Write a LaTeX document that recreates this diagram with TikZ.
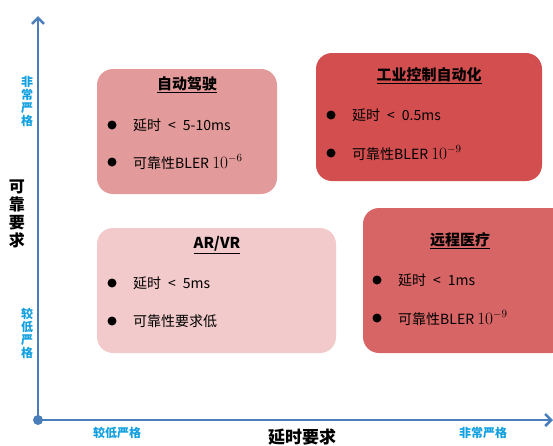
\documentclass[tikz,border=0pt]{standalone}
\usepackage{fontspec}
\setmainfont{Noto Sans CJK SC}
\usetikzlibrary{arrows.meta}
\definecolor{axisblue}{HTML}{4A7EBB}
\definecolor{lblblue}{HTML}{12A0E0}
\definecolor{cAuto}{HTML}{E39A9A}
\definecolor{cInd}{HTML}{D34E4F}
\definecolor{cAR}{HTML}{F2CACB}
\definecolor{cMed}{HTML}{D86565}
\newcommand{\tenpow}[1]{{\fontsize{16}{17}\selectfont$10^{#1}$}}
\begin{document}
\begin{tikzpicture}[x=1pt,y=-1pt,
  card/.style={rounded corners=16pt, draw=none},
  ttl/.style={font=\fontsize{15}{17}\selectfont\bfseries, inner sep=0pt},
  itm/.style={font=\fontsize{14}{16}\selectfont, anchor=west, inner sep=0pt},
  dot/.style={circle, fill=black, inner sep=0pt, minimum size=9pt},
  blbl/.style={text=lblblue, font=\fontsize{12}{13}\selectfont\bfseries, inner sep=0pt, align=center},
  axis/.style={draw=axisblue, line width=2.6pt}]
\useasboundingbox (0,0) rectangle (553,445);
% axes
\coordinate (O) at (38,420);
\coordinate (Ytop) at (38,16);
\coordinate (Xend) at (553,420);
\draw[axis, -{Straight Barb[length=6pt,width=12pt]}] (O) -- (Ytop);
\draw[axis, -{Straight Barb[length=6pt,width=12pt]}] (O) -- (Xend);
\node[circle, fill=axisblue, minimum size=10pt, inner sep=0pt] (odot) at (O) {};
% axis labels
\node[blbl] (yhi) at (27,101) {非\\常\\严\\格};
\node[blbl] (ylo) at (27,333) {较\\低\\严\\格};
\node[font=\fontsize{16}{18}\selectfont\bfseries, align=center, inner sep=0pt] (ytitle) at (17,214) {可\\靠\\要\\求};
\node[blbl] (xlo) at (117,433) {较低严格};
\node[blbl] (xhi) at (483,433) {非常严格};
\node[font=\fontsize{17}{18}\selectfont\bfseries, inner sep=0pt] (xtitle) at (302,437) {延时要求};
% cards
\path[card, fill=cAuto] (97,69) rectangle (277,194);
\path[card, fill=cInd] (316,53) rectangle (542,181);
\path[card, fill=cAR] (97,228) rectangle (336,353);
\path[card, fill=cMed] (363,208) rectangle (567,353);
% auto driving
\node[ttl] (t1) at (187,85) {\underline{自动驾驶}};
\node[dot] (d11) at (112,125) {};
\node[itm] (i11) at (133,125) {延时\enspace<\enspace5-10ms};
\node[dot] (d12) at (112,162) {};
\node[itm] (i12) at (133,162) {可靠性BLER \tenpow{-6}};
% industrial
\node[ttl] (t2) at (429,76) {\underline{工业控制自动化}};
\node[dot] (d21) at (331,115) {};
\node[itm] (i21) at (352,115) {延时\enspace<\enspace0.5ms};
\node[dot] (d22) at (331,153) {};
\node[itm] (i22) at (352,153) {可靠性BLER \tenpow{-9}};
% AR/VR
\node[ttl] (t3) at (217,245) {\underline{AR/VR}};
\node[dot] (d31) at (112,283) {};
\node[itm] (i31) at (133,283) {延时\enspace<\enspace5ms};
\node[dot] (d32) at (112,321) {};
\node[itm] (i32) at (133,321) {可靠性要求低};
% remote medical
\node[ttl] (t4) at (460,241) {\underline{远程医疗}};
\node[dot] (d41) at (377,280) {};
\node[itm] (i41) at (398,280) {延时\enspace<\enspace1ms};
\node[dot] (d42) at (377,318) {};
\node[itm] (i42) at (398,318) {可靠性BLER \tenpow{-9}};
\end{tikzpicture}
\end{document}
